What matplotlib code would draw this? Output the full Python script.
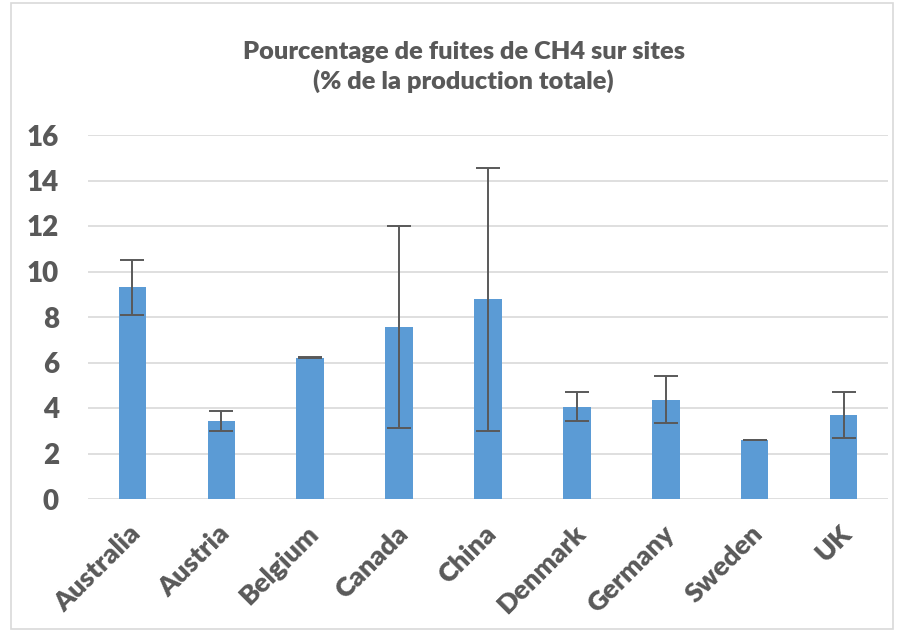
import matplotlib.pyplot as plt
import matplotlib.transforms as mtransforms
from matplotlib.patches import Rectangle

countries = ["Australia", "Austria", "Belgium", "Canada", "China",
             "Denmark", "Germany", "Sweden", "UK"]
values = [9.3, 3.43, 6.2, 7.55, 8.8, 4.06, 4.36, 2.59, 3.69]
err_low = [8.1, 3.0, 6.18, 3.1, 3.0, 3.43, 3.34, 2.58, 2.68]
err_high = [10.5, 3.87, 6.22, 12.0, 14.55, 4.7, 5.39, 2.6, 4.7]
yticks = [0, 2, 4, 6, 8, 10, 12, 14, 16]

plt.rcParams['font.family'] = ['Lato', 'DejaVu Sans']
grey = "#595959"

fig = plt.figure(figsize=(9.04, 6.32), dpi=100)
fig.patches.append(Rectangle((0.012, 0.005), 0.976, 0.99, transform=fig.transFigure,
                             fill=False, edgecolor="#D9D9D9", linewidth=1.2))
ax = fig.add_axes([88 / 904, 133 / 632, 800 / 904, 364 / 632])

x = list(range(len(countries)))
yerr = [[v - lo for v, lo in zip(values, err_low)],
        [hi - v for v, hi in zip(values, err_high)]]
ax.bar(x, values, width=0.31, color="#5B9BD5", zorder=2)
ax.errorbar(x, values, yerr=yerr, fmt="none", ecolor=grey, elinewidth=1.4,
            capsize=8.5, capthick=1.4, zorder=3)

ax.set_xlim(-0.5, len(countries) - 0.5)
ax.set_ylim(0, 16)
ax.set_yticks(yticks)
ax.set_yticklabels([str(t) for t in yticks], fontsize=20, fontweight="heavy", color=grey)
ax.set_xticks(x)
ax.set_xticklabels(countries, rotation=45, ha="right", rotation_mode="anchor",
                   fontsize=19.5, fontweight="heavy", color=grey)
ax.tick_params(length=0)
ax.tick_params(axis="y", pad=21)
ax.tick_params(axis="x", pad=16)
shift = mtransforms.ScaledTranslation(-4 / 100, 0, fig.dpi_scale_trans)
for lbl in ax.get_xticklabels():
    lbl.set_transform(lbl.get_transform() + shift)
ax.grid(axis="y", color="#D9D9D9", linewidth=1.2, zorder=0)
for s in ax.spines.values():
    s.set_visible(False)

fig.text(0.513, 0.894, "Pourcentage de fuites de CH4 sur sites\n(% de la production totale)",
         ha="center", va="center", fontsize=18.3, fontweight="heavy", color=grey,
         linespacing=1.3)

fig.savefig("out.png", dpi=100)
